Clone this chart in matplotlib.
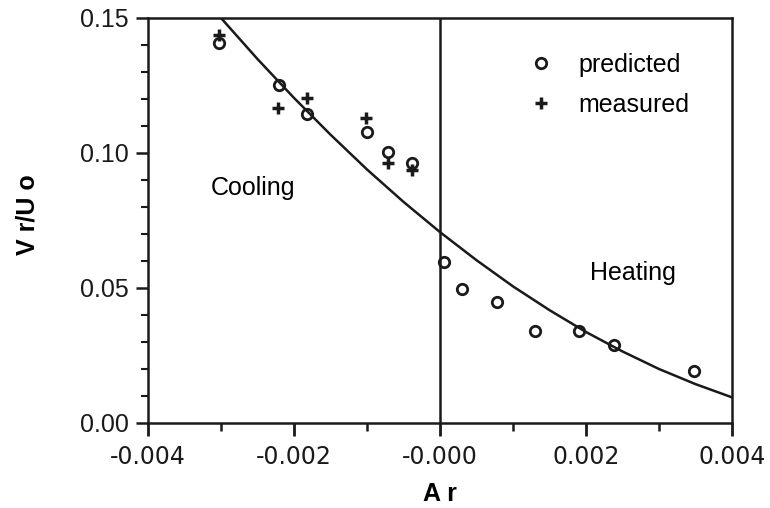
import matplotlib
matplotlib.use("Agg")
import matplotlib.pyplot as plt
from matplotlib.ticker import MultipleLocator

plt.rcParams.update({'font.family': 'Liberation Sans', 'font.size': 14})

# predicted velocity ratio
pred_ar = [-0.00303, -0.00221, -0.00182, -0.00100, -0.00071, -0.00038,
           0.00005, 0.00030, 0.00078, 0.00130, 0.00191, 0.00239, 0.00348]
pred_v = [0.1407, 0.1252, 0.1144, 0.1078, 0.1004, 0.0963,
          0.0596, 0.0496, 0.0448, 0.0341, 0.0341, 0.0289, 0.0193]

# measured velocity ratio
meas_ar = [-0.00303, -0.00222, -0.00182, -0.00101, -0.00071, -0.00038]
meas_v = [0.1437, 0.1167, 0.1204, 0.1130, 0.0963, 0.0937]

# correlation curve
curve_ar = [-0.0030, -0.0025, -0.0020, -0.0015, -0.0010, -0.0005, 0.0,
            0.0005, 0.0010, 0.0015, 0.0020, 0.0025, 0.0030, 0.0035, 0.0040]
curve_v = [0.1500, 0.1348, 0.1204, 0.1068, 0.0939, 0.0819, 0.0707,
           0.0603, 0.0506, 0.0418, 0.0337, 0.0265, 0.0200, 0.0144, 0.0095]

xticks = [-0.004, -0.002, 0.0, 0.002, 0.004]
xticklabels = ['-0.004', '-0.002', '-0.000', '0.002', '0.004']
yticks = [0.0, 0.05, 0.10, 0.15]
yticklabels = ['0.00', '0.05', '0.10', '0.15']

ink = '#1a1a1a'

fig = plt.figure(figsize=(7.7, 5.08), dpi=100)
ax = fig.add_axes([148/770, 1 - 423/508, 584/770, 405/508])

ax.plot(curve_ar, curve_v, '-', color=ink, linewidth=1.8)
ax.plot(pred_ar, pred_v, 'o', mfc='none', mec=ink, mew=2.0,
        markersize=7.5, label='predicted')
ax.plot(meas_ar, meas_v, '+', color=ink, mew=2.5, markersize=9,
        label='measured')
ax.axvline(0.0, color=ink, linewidth=1.8)

ax.set_xlim(-0.004, 0.004)
ax.set_ylim(0.0, 0.15)
ax.xaxis.set_minor_locator(MultipleLocator(0.001))
ax.yaxis.set_minor_locator(MultipleLocator(0.01))
ax.set_xticks(xticks)
ax.set_xticklabels(xticklabels, family='DejaVu Sans', fontsize=17)
ax.set_yticks(yticks)
ax.set_yticklabels(yticklabels, fontsize=18)

ax.tick_params(axis='x', which='major', direction='out', length=9.5, width=2,
               pad=6, colors=ink)
ax.tick_params(axis='x', which='minor', direction='out', length=6, width=1.8,
               colors=ink)
ax.tick_params(axis='y', which='major', direction='out', length=9, width=1.8,
               pad=5, colors=ink)
ax.tick_params(axis='y', which='minor', direction='out', length=5, width=1.5,
               colors=ink)
for s in ax.spines.values():
    s.set_linewidth(1.8)
    s.set_color(ink)

ax.set_xlabel('A r', fontsize=18, fontweight='bold', va='top')
ax.xaxis.set_label_coords(0.5, -0.146)
ax.set_ylabel('V r/U o', fontsize=18, fontweight='bold')
ax.yaxis.set_label_coords(-0.186, 0.514)

ax.text(-0.00314, 0.0869, 'Cooling', fontsize=18, va='center', ha='left')
ax.text(0.00205, 0.0557, 'Heating', fontsize=18, va='center', ha='left')

ax.legend(loc='upper left', bbox_to_anchor=(0.634, 0.938), frameon=False,
          fontsize=18, handlelength=1.0, handletextpad=1.0,
          labelspacing=0.64, borderaxespad=0)

fig.savefig('out.png', dpi=100)
